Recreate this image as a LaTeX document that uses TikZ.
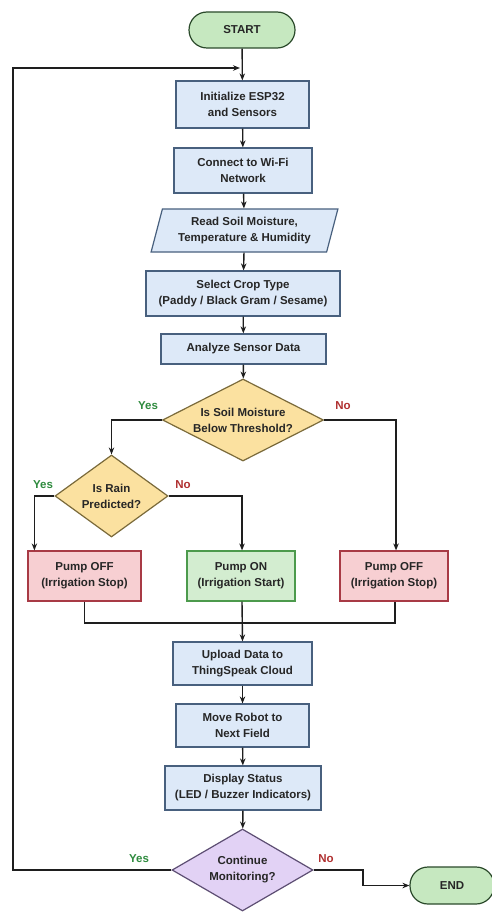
\documentclass[tikz,border=0pt]{standalone}
\usepackage{fontspec}
\setmainfont{Liberation Sans}
\usetikzlibrary{arrows.meta, positioning, calc, shapes.geometric}
\definecolor{boxblue}{HTML}{DDE9F8}
\definecolor{edgeblue}{HTML}{48607E}
\definecolor{termgreen}{HTML}{C6E8C0}
\definecolor{edgedkgreen}{HTML}{2B4A2B}
\definecolor{decyellow}{HTML}{FBE1A0}
\definecolor{edgeyellow}{HTML}{7A6A3A}
\definecolor{offred}{HTML}{F7CFD2}
\definecolor{edgered}{HTML}{A83A45}
\definecolor{ongreen}{HTML}{D3EDD0}
\definecolor{edgegreen}{HTML}{4C9A4C}
\definecolor{decpurple}{HTML}{E2D2F5}
\definecolor{edgepurple}{HTML}{5D4E73}
\definecolor{yesgreen}{HTML}{2E8B3E}
\definecolor{nored}{HTML}{B03030}
\definecolor{linegray}{HTML}{1E1E1E}

\begin{document}
\begin{tikzpicture}[
  x=1pt, y=-1pt,
  >={Stealth[length=7pt, width=5.5pt]},
  every node/.style={text=black!85, font=\fontsize{11.5}{16}\selectfont\bfseries},
  procbox/.style={rectangle, fill=boxblue, draw=edgeblue, line width=1.2pt, align=center, inner sep=2pt},
  termbox/.style={rounded corners=18pt, fill=termgreen, draw=edgedkgreen, line width=1.2pt, minimum height=36pt, inner sep=2pt},
  iobox/.style={trapezium, trapezium left angle=73, trapezium right angle=107, trapezium stretches=true, fill=boxblue, draw=edgeblue, line width=1.2pt, align=center, inner sep=2pt},
  decbox/.style={diamond, fill=decyellow, draw=edgeyellow, line width=1.2pt, align=center, inner sep=0pt, minimum height=82pt},
  offbox/.style={rectangle, fill=offred, draw=edgered, line width=1.2pt, align=center, minimum width=110pt, minimum height=50pt},
  yeslbl/.style={text=yesgreen},
  nolbl/.style={text=nored},
  flow/.style={linegray, line width=1.4pt},
  arr/.style={flow, ->},
]

% Background
\fill[white] (0,0) rectangle (491,912);
\useasboundingbox (0,0) rectangle (491,912);

% Setup steps
\node[termbox, minimum width=106pt] (start) at (242,30) {START};
\node[procbox, minimum width=133pt, minimum height=47pt] (init) at (242.5,104.5) {Initialize ESP32\\and Sensors};
\node[procbox, minimum width=138pt, minimum height=45pt] (wifi) at (243,170.5) {Connect to Wi-Fi\\Network};
\node[iobox, minimum width=187pt, minimum height=43pt] (read) at (244.5,230.5) {Read Soil Moisture,\\Temperature \& Humidity};
\node[procbox, minimum width=194pt, minimum height=45pt] (crop) at (243,293.5) {Select Crop Type\\(Paddy / Black Gram / Sesame)};
\node[procbox, minimum width=165pt, minimum height=30pt] (analyze) at (243.5,349) {Analyze Sensor Data};

% Decisions
\node[decbox, minimum width=161pt, shape aspect=2] (moist) at (243,420) {Is Soil Moisture\\Below Threshold?};
\node[decbox, minimum width=113pt, shape aspect=1.4] (rain) at (111.5,496) {Is Rain\\Predicted?};

% Pump states
\node[offbox, minimum width=113pt] (offL) at (84.5,576) {Pump OFF\\(Irrigation Stop)};
\node[offbox, fill=ongreen, draw=edgegreen, minimum width=108pt] (pumpon) at (241,576) {Pump ON\\(Irrigation Start)};
\node[offbox, minimum width=108pt] (offR) at (394,576) {Pump OFF\\(Irrigation Stop)};

% Reporting steps
\node[procbox, minimum width=139pt, minimum height=43pt] (upload) at (242.5,663.5) {Upload Data to\\ThingSpeak Cloud};
\node[procbox, minimum width=133pt, minimum height=43pt] (move) at (242.5,725.5) {Move Robot to\\Next Field};
\node[procbox, minimum width=156pt, minimum height=44pt] (status) at (243,788) {Display Status\\(LED / Buzzer Indicators)};
\node[decbox, fill=decpurple, draw=edgepurple, minimum width=141pt, shape aspect=1.7] (cont) at (242.5,870) {Continue\\Monitoring?};
\node[termbox, minimum width=84pt, minimum height=37pt] (end) at (452,885.5) {END};

% Branch labels
\node[yeslbl] (y1) at (148,406) {Yes};
\node[nolbl] (n1) at (343,406) {No};
\node[yeslbl] (y2) at (43,485) {Yes};
\node[nolbl] (n2) at (183,485) {No};
\node[yeslbl] (y3) at (139,859) {Yes};
\node[nolbl] (n3) at (326,859) {No};

% Main flow
\draw[arr] (start) -- (init);
\draw[arr] (init) -- (wifi);
\draw[arr] (wifi) -- (read);
\draw[arr] (read) -- (crop);
\draw[arr] (crop) -- (analyze);
\draw[arr] (analyze) -- (moist);
\draw[arr] (moist.west) -| (rain.north);
\draw[arr] (moist.east) -| ([xshift=2pt]offR.north);
\draw[arr] (rain.west) -| ([xshift=7pt]offL.north west);
\draw[arr] (rain.east) -| ([xshift=1pt]pumpon.north);

% Merge
\coordinate (merge) at (242,623);
\draw[flow] (offL.south) |- (merge) -| ([xshift=1pt]offR.south);
\draw[arr] ([xshift=1pt]pumpon.south) -- (upload.north);
\draw[arr] (upload) -- (move);
\draw[arr] (move) -- (status);
\draw[arr] (status) -- (cont);

% Loop back and exit
\coordinate (loop) at (240,68);
\draw[arr] (cont.west) -- (13,870) |- (loop);
\draw[arr] (cont.east) -- (363,870) |- (end.west);

\end{tikzpicture}
\end{document}
